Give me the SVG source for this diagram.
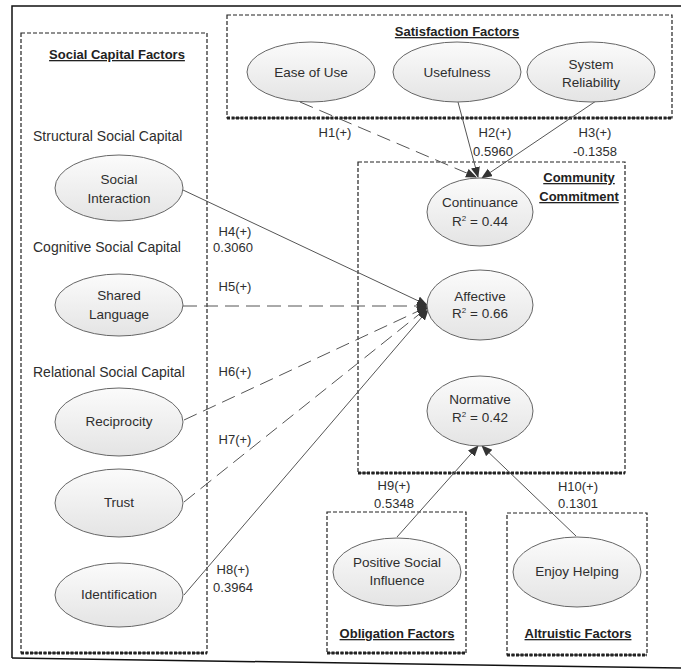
<svg xmlns="http://www.w3.org/2000/svg" width="681" height="670" viewBox="0 0 681 670">
<defs>
<linearGradient id="g" x1="0" y1="0" x2="0" y2="1">
<stop offset="0" stop-color="#fbfbfb"/>
<stop offset="1" stop-color="#e4e4e4"/>
</linearGradient>
<marker id="arr" markerUnits="userSpaceOnUse" markerWidth="12" markerHeight="10" refX="10" refY="4.5" orient="auto">
<path d="M0,0 L11,4.5 L0,9 z" fill="#333"/>
</marker>
</defs>
<style>
text{font-family:"Liberation Sans",Arial,sans-serif;fill:#2e2e2e;font-size:13px;text-anchor:middle}
.t{font-weight:bold;text-decoration:underline;fill:#222}
.l{text-anchor:start;font-size:14px}
.n{font-size:13.5px}
.e{fill:url(#g);stroke:#666;stroke-width:1}
.box{fill:none;stroke:#222;stroke-width:1.2;stroke-dasharray:4,2}
.sh{fill:none;stroke:#222;stroke-width:3;stroke-dasharray:3,1.5}
.c{fill:none;stroke:#555;stroke-width:1;marker-end:url(#arr)}
.d{stroke-dasharray:14,7}
</style>
<rect x="0" y="0" width="681" height="670" fill="#fff"/>
<path d="M12,658 V6 H681" fill="none" stroke="#111" stroke-width="1.5"/>
<path d="M12,658 L681,668" fill="none" stroke="#111" stroke-width="1.5"/>

<g id="box-social">
<rect class="box" x="21" y="33" width="186" height="620"/>
<line class="sh" x1="21" y1="653" x2="207" y2="653"/>
<text class="t" x="117" y="59">Social Capital Factors</text>
<text class="l" x="33" y="141">Structural Social Capital</text>
<text class="l" x="33" y="252">Cognitive Social Capital</text>
<text class="l" x="33" y="377">Relational Social Capital</text>
</g>
<g id="box-satisfaction">
<rect class="box" x="227" y="15" width="445" height="103"/>
<line class="sh" x1="227" y1="118" x2="672" y2="118"/>
<text class="t" x="457" y="36">Satisfaction Factors</text>
</g>
<g id="box-commitment">
<rect class="box" x="358" y="162" width="267" height="311"/>
<line class="sh" x1="358" y1="473" x2="625" y2="473"/>
<text class="t" x="579" y="182">Community</text>
<text class="t" x="579" y="201">Commitment</text>
</g>
<g id="box-obligation">
<rect class="box" x="327" y="512" width="139" height="141"/>
<line class="sh" x1="327" y1="653" x2="466" y2="653"/>
<text class="t" x="397" y="638">Obligation Factors</text>
</g>
<g id="box-altruistic">
<rect class="box" x="507" y="513" width="140" height="142"/>
<line class="sh" x1="507" y1="655" x2="647" y2="655"/>
<text class="t" x="578" y="638">Altruistic Factors</text>
</g>

<g id="connectors">
<line class="c d" x1="300" y1="102" x2="476" y2="177"/>
<line class="c" x1="458" y1="102" x2="478" y2="177"/>
<line class="c" x1="596" y1="101" x2="482" y2="178"/>
<line class="c" x1="183" y1="190" x2="427" y2="305"/>
<line class="c d" x1="183" y1="306" x2="427" y2="306"/>
<line class="c d" x1="184" y1="420" x2="427" y2="307"/>
<line class="c d" x1="184" y1="502" x2="427" y2="308"/>
<line class="c" x1="184" y1="595" x2="428" y2="310"/>
<line class="c" x1="397" y1="537" x2="478" y2="446"/>
<line class="c" x1="576" y1="536" x2="482" y2="446"/>
<text x="335" y="137">H1(+)</text>
<text x="495" y="137">H2(+)</text>
<text x="493" y="156">0.5960</text>
<text x="595" y="137">H3(+)</text>
<text x="595" y="156">-0.1358</text>
<text x="235" y="236">H4(+)</text>
<text x="233" y="252">0.3060</text>
<text x="235" y="291">H5(+)</text>
<text x="235" y="376">H6(+)</text>
<text x="235" y="444">H7(+)</text>
<text x="233" y="574">H8(+)</text>
<text x="233" y="592">0.3964</text>
<text x="394" y="490">H9(+)</text>
<text x="394" y="508">0.5348</text>
<text x="578" y="491">H10(+)</text>
<text x="578" y="508">0.1301</text>
</g>

<g id="n-ease"><ellipse class="e" cx="311" cy="72" rx="64" ry="30"/><text class="n" x="311" y="77">Ease of Use</text></g>
<g id="n-usefulness"><ellipse class="e" cx="457" cy="72" rx="64" ry="30"/><text class="n" x="457" y="77">Usefulness</text></g>
<g id="n-reliability"><ellipse class="e" cx="591" cy="72" rx="64" ry="30"/><text class="n" x="591" y="69">System</text><text class="n" x="591" y="87">Reliability</text></g>
<g id="n-social-interaction"><ellipse class="e" cx="119" cy="188" rx="64" ry="33"/><text class="n" x="119" y="184">Social</text><text class="n" x="119" y="203">Interaction</text></g>
<g id="n-shared-language"><ellipse class="e" cx="119" cy="305" rx="64" ry="31"/><text class="n" x="119" y="300">Shared</text><text class="n" x="119" y="319">Language</text></g>
<g id="n-reciprocity"><ellipse class="e" cx="119" cy="422" rx="64" ry="34"/><text class="n" x="119" y="426">Reciprocity</text></g>
<g id="n-trust"><ellipse class="e" cx="119" cy="503" rx="64" ry="34"/><text class="n" x="119" y="507">Trust</text></g>
<g id="n-identification"><ellipse class="e" cx="119" cy="595" rx="64" ry="32"/><text class="n" x="119" y="599">Identification</text></g>
<g id="n-continuance"><ellipse class="e" cx="480" cy="212" rx="53" ry="34"/><text class="n" x="480" y="207">Continuance</text><text class="n" x="480" y="226">R<tspan font-size="8" dy="-5">2</tspan><tspan dy="5"> = 0.44</tspan></text></g>
<g id="n-affective"><ellipse class="e" cx="480" cy="305" rx="53" ry="35"/><text class="n" x="480" y="301">Affective</text><text class="n" x="480" y="318">R<tspan font-size="8" dy="-5">2</tspan><tspan dy="5"> = 0.66</tspan></text></g>
<g id="n-normative"><ellipse class="e" cx="480" cy="411" rx="53" ry="35"/><text class="n" x="480" y="404">Normative</text><text class="n" x="480" y="422">R<tspan font-size="8" dy="-5">2</tspan><tspan dy="5"> = 0.42</tspan></text></g>
<g id="n-positive-social-influence"><ellipse class="e" cx="397" cy="572" rx="64" ry="34"/><text class="n" x="397" y="567">Positive Social</text><text class="n" x="397" y="585">Influence</text></g>
<g id="n-enjoy-helping"><ellipse class="e" cx="577" cy="572" rx="64" ry="35"/><text class="n" x="577" y="576">Enjoy Helping</text></g>
</svg>
